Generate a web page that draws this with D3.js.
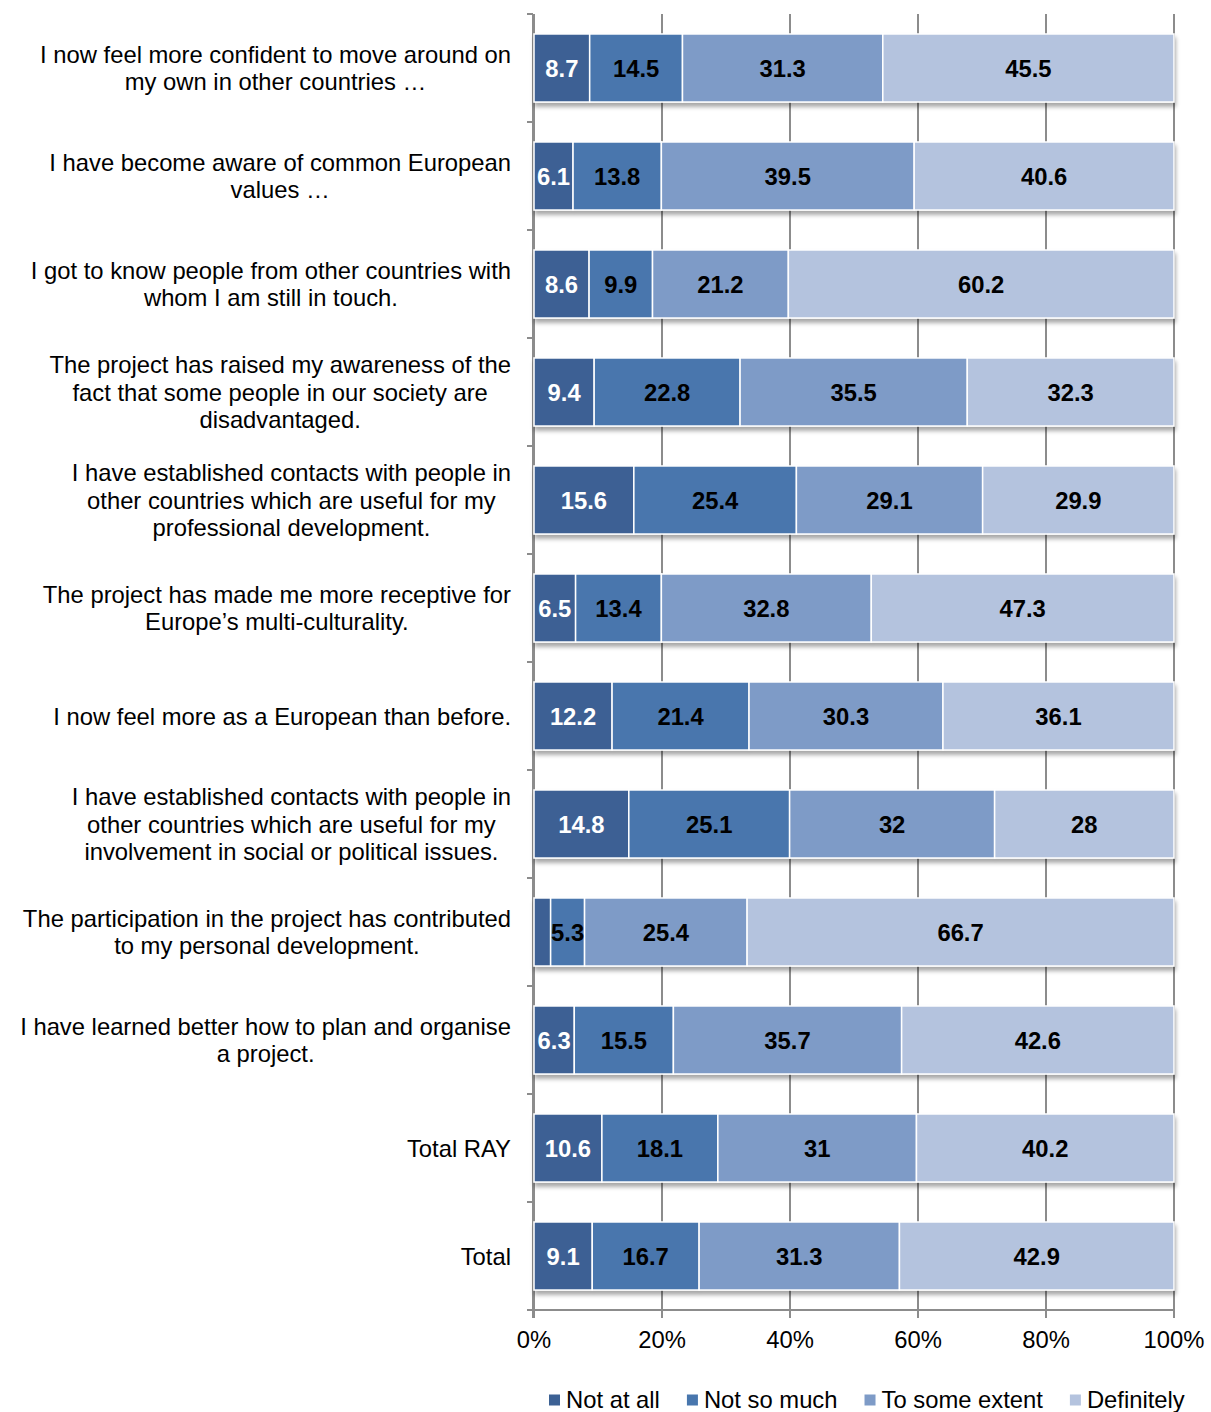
<!DOCTYPE html>
<html lang="en">
<head>
  <meta charset="UTF-8">
  <title>Stacked bars</title>
  <script src="https://d3js.org/d3.v7.min.js"></script>
  <style>
    body { margin: 0; background: #fff; }
    text { font-family: Arial, "Liberation Sans", sans-serif; }
    .grid { stroke: #8c8c8c; stroke-width: 2px; }
    .axis { stroke: #8c8c8c; stroke-width: 2px; fill: none; }
  </style>
</head>
<body>
<svg id="chart" width="1211" height="1412"></svg>
<script>
  // categories (already split into lines as in the picture)
  const categories = [
    ["I now feel more confident to move around on", "my own in other countries \u2026"],
    ["I have become aware of common European", "values \u2026"],
    ["I got to know people from other countries with", "whom I am still in touch."],
    ["The project has raised my awareness of the", "fact that some people in our society are", "disadvantaged."],
    ["I have established contacts with people in", "other countries which are useful for my", "professional development."],
    ["The project has made me more receptive for", "Europe\u2019s multi-culturality."],
    ["I now feel more as a European than before."],
    ["I have established contacts with people in", "other countries which are useful for my", "involvement in social or political issues."],
    ["The participation in the project has contributed", "to my personal development."],
    ["I have learned better how to plan and organise", "a project."],
    ["Total RAY"],
    ["Total"]
  ];
  const seriesNames = ["Not at all", "Not so much", "To some extent", "Definitely"];
  const notAtAll     = [8.7, 6.1, 8.6, 9.4, 15.6, 6.5, 12.2, 14.8, 2.6, 6.3, 10.6, 9.1];
  const notSoMuch    = [14.5, 13.8, 9.9, 22.8, 25.4, 13.4, 21.4, 25.1, 5.3, 15.5, 18.1, 16.7];
  const toSomeExtent = [31.3, 39.5, 21.2, 35.5, 29.1, 32.8, 30.3, 32, 25.4, 35.7, 31, 31.3];
  const definitely   = [45.5, 40.6, 60.2, 32.3, 29.9, 47.3, 36.1, 28, 66.7, 42.6, 40.2, 42.9];
  const xTicks = [0, 20, 40, 60, 80, 100];
  const colors = ["#3c6194", "#4876ad", "#7e9bc7", "#b4c3de"];

  const svg = d3.select("#chart");
  const plot = { left: 534, right: 1174, top: 14, bottom: 1310 };
  const fs = 23.8;

  const x = d3.scaleLinear().domain([0, 100]).range([plot.left, plot.right]);
  const y = d3.scaleBand().domain(d3.range(categories.length))
              .range([plot.top, plot.bottom]).paddingInner(0.37).paddingOuter(0.185);

  // shadow under bars
  const defs = svg.append("defs");
  defs.append("filter").attr("id", "shadow")
      .attr("x", "-5%").attr("y", "-20%").attr("width", "110%").attr("height", "150%")
    .append("feDropShadow")
      .attr("dx", 1).attr("dy", 4).attr("stdDeviation", 2.2)
      .attr("flood-color", "#000").attr("flood-opacity", 0.35);

  // gridlines (extend below axis as tick marks)
  svg.append("g").selectAll("line").data(xTicks).join("line")
     .attr("class", "grid")
     .attr("x1", d => x(d)).attr("x2", d => x(d))
     .attr("y1", plot.top).attr("y2", plot.bottom + 8);

  // left axis + category boundary ticks
  const step = y.step();
  const bounds = d3.range(categories.length + 1).map(i => plot.top + i * step);
  svg.append("line").attr("class", "axis")
     .attr("x1", x(0) - 1).attr("x2", x(0) - 1)
     .attr("y1", plot.top).attr("y2", plot.bottom + 8);
  svg.append("g").selectAll("line").data(bounds).join("line")
     .attr("class", "axis")
     .attr("x1", x(0) - 7).attr("x2", x(0) - 1)
     .attr("y1", d => d).attr("y2", d => d);
  svg.append("line").attr("class", "axis")
     .attr("x1", x(0) - 7).attr("x2", x(100))
     .attr("y1", plot.bottom).attr("y2", plot.bottom);

  // build stacked data (100% stacked)
  const rows = categories.map((c, i) => {
    const vals = [notAtAll[i], notSoMuch[i], toSomeExtent[i], definitely[i]];
    const sum = d3.sum(vals);
    let acc = 0;
    return vals.map((v, k) => {
      const seg = { row: i, k: k, v: v, x0: acc / sum * 100, x1: (acc + v) / sum * 100 };
      acc += v;
      return seg;
    });
  });

  const barGroups = svg.append("g").selectAll("g").data(rows).join("g")
     .attr("filter", "url(#shadow)");
  barGroups.selectAll("rect").data(d => d).join("rect")
     .attr("x", d => x(d.x0))
     .attr("y", d => y(d.row))
     .attr("width", d => x(d.x1) - x(d.x0))
     .attr("height", y.bandwidth())
     .attr("fill", d => colors[d.k])
     .attr("stroke", "#fff").attr("stroke-width", 1.5);

  // value labels
  svg.append("g").selectAll("text").data(rows.flat().filter(d => d.v >= 3)).join("text")
     .attr("x", d => (x(d.x0) + x(d.x1)) / 2)
     .attr("y", d => y(d.row) + y.bandwidth() / 2)
     .attr("dy", "0.36em")
     .attr("text-anchor", "middle")
     .attr("font-size", fs).attr("font-weight", "bold")
     .attr("fill", d => d.k === 0 ? "#fff" : "#000")
     .text(d => d.v);

  // category labels
  const labelRight = 511;
  const lineH = 27.8;
  categories.forEach((lines, i) => {
    const g = svg.append("g");
    const cy = y(i) + y.bandwidth() / 2;
    const t = g.selectAll("text").data(lines).join("text")
       .attr("y", (d, j) => cy + (j - (lines.length - 1) / 2) * lineH)
       .attr("dy", "0.36em")
       .attr("font-size", fs).attr("fill", "#000")
       .attr("text-anchor", "middle")
       .text(d => d);
    const maxW = d3.max(t.nodes(), n => n.getComputedTextLength());
    t.attr("x", labelRight - maxW / 2);
  });

  // x tick labels
  svg.append("g").selectAll("text").data(xTicks).join("text")
     .attr("x", d => x(d)).attr("y", plot.bottom + 29).attr("dy", "0.36em")
     .attr("text-anchor", "middle").attr("font-size", fs).attr("fill", "#000")
     .text(d => d + "%");

  // legend
  const legend = svg.append("g");
  let lx = 549;
  const ly = 1399;
  seriesNames.forEach((name, k) => {
    legend.append("rect").attr("x", lx).attr("y", ly - 4.5)
       .attr("width", 11).attr("height", 11).attr("fill", colors[k]);
    const t = legend.append("text").attr("x", lx + 17).attr("y", ly).attr("dy", "0.36em")
       .attr("font-size", fs).attr("fill", "#000").text(name);
    lx += 17 + t.node().getComputedTextLength() + 27;
  });
</script>
</body>
</html>
